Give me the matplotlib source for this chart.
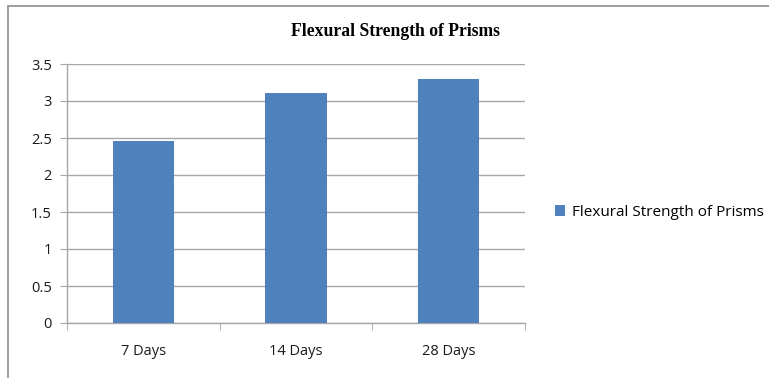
import matplotlib.pyplot as plt
from matplotlib.patches import Rectangle

categories = ["7 Days", "14 Days", "28 Days"]
strength = [2.46, 3.11, 3.30]
yticks = [0, 0.5, 1, 1.5, 2, 2.5, 3, 3.5]
ytick_labels = ["0", "0.5", "1", "1.5", "2", "2.5", "3", "3.5"]

bar_color = "#4f81bd"
line_color = "#a6a6a6"

fig = plt.figure(figsize=(7.69, 3.78), dpi=100)
# chart frame
fig.patches.append(Rectangle((7.5 / 769, -0.05), 1.0, 1 - 6 / 378 + 0.05,
                             transform=fig.transFigure, fill=False,
                             edgecolor="#8c8c8c", linewidth=1.2))

ax = fig.add_axes([67 / 769, 1 - 323 / 378, (525 - 67) / 769, (323 - 64) / 378])
x = range(len(categories))
ax.bar(x, strength, width=0.4, color=bar_color, zorder=3,
       label="Flexural Strength of Prisms")

ax.set_xlim(-0.5, 2.5)
ax.set_ylim(0, 3.5)
ax.set_yticks(yticks)
ax.set_yticklabels(ytick_labels)
ax.set_xticks(list(x))
ax.set_xticklabels(categories)
ax.set_xticks([-0.5, 0.5, 1.5, 2.5], minor=True)

ax.grid(axis="y", color=line_color, linewidth=1, zorder=0)
for s in ["top", "right"]:
    ax.spines[s].set_visible(False)
for s in ["left", "bottom"]:
    ax.spines[s].set_color(line_color)
    ax.spines[s].set_linewidth(1)

ax.tick_params(axis="y", length=5, color=line_color, labelsize=10.5, pad=6)
ax.tick_params(axis="x", which="major", length=0, labelsize=10.5, pad=15)
ax.tick_params(axis="x", which="minor", length=5, color=line_color)
for lab in ax.get_xticklabels() + ax.get_yticklabels():
    lab.set_fontfamily("Open Sans")
    lab.set_color("#1a1a1a")

fig.text(395 / 769, 1 - 31 / 378, "Flexural Strength of Prisms",
         ha="center", va="center", fontsize=12.7, fontweight="bold",
         family="Liberation Serif")

fig.legend(loc="center left", bbox_to_anchor=(541 / 769, 1 - 212 / 378),
           frameon=False, handlelength=0.7, handleheight=0.7,
           handletextpad=0.4, prop={"family": "Open Sans", "size": 11})

fig.savefig("out.png", dpi=100)
